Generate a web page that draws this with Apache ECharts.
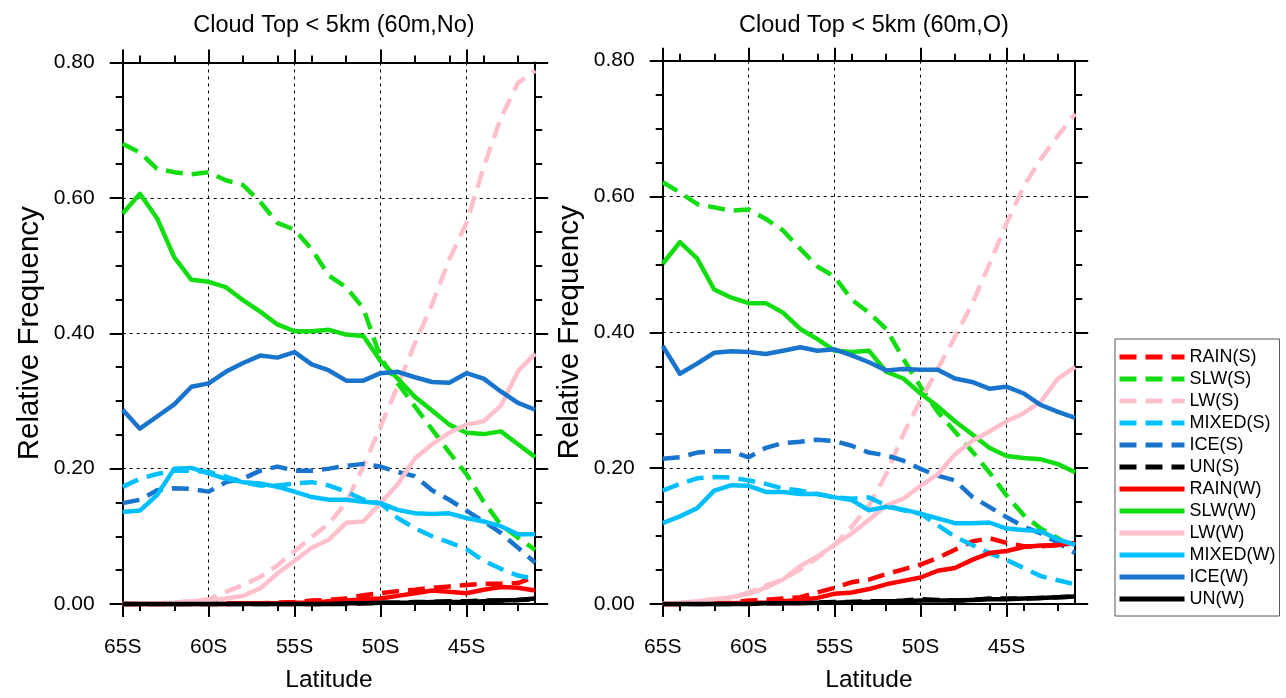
<!DOCTYPE html>
<html>
<head>
<meta charset="utf-8">
<script src="https://cdn.jsdelivr.net/npm/echarts@6/dist/echarts.min.js"></script>
<style>
html,body{margin:0;padding:0;background:#fff;}
#chart{width:1286px;height:698px;}
</style>
</head>
<body>
<div id="chart"></div>
<script>
// ---------- data ----------
const latitudes = [65,64,63,62,61,60,59,58,57,56,55,54,53,52,51,50,49,48,47,46,45,44,43,42,41];
const xMajorTicks = [-65,-60,-55,-50,-45];
const xMinorTicks = [-64,-62,-58,-56,-54,-52,-48,-46,-44,-42];
const seriesNames = ['RAIN(S)','SLW(S)','LW(S)','MIXED(S)','ICE(S)','UN(S)','RAIN(W)','SLW(W)','LW(W)','MIXED(W)','ICE(W)','UN(W)'];
const panelTitles = ['Cloud Top < 5km (60m,No)','Cloud Top < 5km (60m,O)'];

// Left panel (60m,No)
const rainS_No  = [0.001,0.001,0.001,0.001,0.001,0.001,0.001,0.001,0.001,0.002,0.003,0.005,0.006,0.008,0.013,0.016,0.019,0.021,0.024,0.026,0.028,0.030,0.030,0.031,0.040];
const slwS_No   = [0.680,0.667,0.643,0.638,0.635,0.638,0.626,0.619,0.594,0.563,0.553,0.524,0.485,0.468,0.437,0.364,0.326,0.292,0.258,0.224,0.192,0.151,0.117,0.098,0.080];
const lwS_No    = [0.001,0.001,0.001,0.002,0.004,0.007,0.018,0.028,0.040,0.057,0.078,0.099,0.119,0.150,0.203,0.262,0.322,0.385,0.443,0.509,0.563,0.645,0.718,0.770,0.788];
const mixedS_No = [0.173,0.185,0.192,0.197,0.197,0.195,0.188,0.180,0.175,0.175,0.178,0.180,0.175,0.166,0.154,0.149,0.127,0.112,0.100,0.091,0.081,0.064,0.052,0.042,0.037];
const iceS_No   = [0.149,0.154,0.168,0.171,0.170,0.166,0.180,0.185,0.197,0.203,0.197,0.197,0.200,0.204,0.207,0.203,0.195,0.189,0.168,0.154,0.138,0.122,0.105,0.083,0.061];
const unS_No    = [0.000,0.000,0.000,0.000,0.000,0.000,0.000,0.000,0.000,0.000,0.000,0.000,0.000,0.000,0.001,0.002,0.002,0.003,0.003,0.004,0.004,0.005,0.005,0.006,0.007];
const rainW_No  = [0.000,0.000,0.000,0.000,0.000,0.000,0.000,0.001,0.001,0.001,0.002,0.002,0.004,0.005,0.007,0.008,0.012,0.016,0.020,0.018,0.016,0.021,0.025,0.024,0.020];
const slwW_No   = [0.577,0.606,0.570,0.512,0.479,0.476,0.468,0.449,0.432,0.413,0.403,0.403,0.405,0.398,0.396,0.359,0.333,0.306,0.286,0.265,0.253,0.251,0.255,0.236,0.217];
const lwW_No    = [0.000,0.001,0.001,0.002,0.004,0.006,0.008,0.012,0.023,0.045,0.064,0.083,0.095,0.120,0.122,0.149,0.177,0.215,0.236,0.253,0.265,0.270,0.293,0.344,0.370];
const mixedW_No = [0.136,0.138,0.161,0.200,0.201,0.193,0.185,0.180,0.178,0.173,0.166,0.158,0.154,0.154,0.151,0.149,0.139,0.134,0.133,0.134,0.127,0.122,0.115,0.103,0.103];
const iceW_No   = [0.287,0.259,0.277,0.295,0.321,0.326,0.343,0.356,0.367,0.364,0.372,0.354,0.345,0.330,0.330,0.341,0.343,0.335,0.328,0.327,0.341,0.333,0.314,0.297,0.287];
const unW_No    = [0.000,0.000,0.000,0.000,0.000,0.000,0.000,0.000,0.000,0.000,0.000,0.000,0.000,0.001,0.001,0.002,0.002,0.002,0.003,0.003,0.003,0.004,0.005,0.006,0.008];

// Right panel (60m,O)
const rainS_O  = [0.001,0.001,0.001,0.001,0.002,0.005,0.006,0.008,0.010,0.017,0.024,0.032,0.036,0.044,0.051,0.058,0.068,0.080,0.092,0.097,0.090,0.085,0.085,0.087,0.090];
const slwS_O   = [0.621,0.606,0.589,0.584,0.579,0.581,0.567,0.550,0.523,0.497,0.482,0.448,0.429,0.405,0.361,0.320,0.283,0.254,0.225,0.194,0.160,0.131,0.111,0.097,0.080];
const lwS_O    = [0.001,0.001,0.002,0.005,0.010,0.017,0.027,0.036,0.051,0.068,0.087,0.114,0.145,0.191,0.250,0.300,0.346,0.393,0.442,0.500,0.560,0.615,0.655,0.690,0.722];
const mixedS_O = [0.167,0.177,0.185,0.187,0.186,0.182,0.177,0.170,0.167,0.162,0.157,0.155,0.157,0.145,0.138,0.133,0.116,0.099,0.087,0.075,0.065,0.053,0.041,0.035,0.029];
const iceS_O   = [0.214,0.216,0.223,0.225,0.225,0.216,0.230,0.237,0.239,0.242,0.240,0.233,0.223,0.219,0.211,0.199,0.189,0.182,0.158,0.143,0.128,0.114,0.104,0.090,0.075];
const unS_O    = [0.000,0.000,0.000,0.000,0.000,0.001,0.001,0.001,0.002,0.002,0.003,0.003,0.004,0.004,0.005,0.007,0.006,0.005,0.006,0.008,0.008,0.008,0.009,0.010,0.011];
const rainW_O  = [0.000,0.000,0.001,0.001,0.001,0.002,0.002,0.004,0.006,0.009,0.015,0.017,0.022,0.029,0.034,0.039,0.049,0.053,0.065,0.075,0.078,0.084,0.086,0.087,0.090];
const slwW_O   = [0.501,0.533,0.509,0.463,0.451,0.443,0.443,0.429,0.405,0.390,0.373,0.371,0.373,0.342,0.332,0.310,0.291,0.269,0.250,0.230,0.218,0.215,0.213,0.206,0.194];
const lwW_O    = [0.001,0.002,0.004,0.007,0.010,0.015,0.024,0.036,0.056,0.070,0.087,0.104,0.124,0.145,0.155,0.174,0.191,0.220,0.240,0.254,0.269,0.281,0.298,0.332,0.349];
const mixedW_O = [0.119,0.129,0.141,0.167,0.175,0.174,0.165,0.165,0.162,0.162,0.157,0.153,0.138,0.143,0.139,0.133,0.126,0.119,0.119,0.120,0.111,0.109,0.107,0.095,0.087];
const iceW_O   = [0.380,0.339,0.354,0.370,0.372,0.371,0.368,0.373,0.378,0.373,0.375,0.366,0.356,0.344,0.346,0.345,0.345,0.332,0.327,0.317,0.320,0.310,0.293,0.283,0.274];
const unW_O    = [0.000,0.000,0.000,0.000,0.000,0.000,0.001,0.001,0.001,0.002,0.002,0.003,0.003,0.004,0.004,0.005,0.005,0.005,0.006,0.007,0.007,0.008,0.009,0.010,0.011];

const panelData = [
  [rainS_No, slwS_No, lwS_No, mixedS_No, iceS_No, unS_No, rainW_No, slwW_No, lwW_No, mixedW_No, iceW_No, unW_No],
  [rainS_O,  slwS_O,  lwS_O,  mixedS_O,  iceS_O,  unS_O,  rainW_O,  slwW_O,  lwW_O,  mixedW_O,  iceW_O,  unW_O]
];

// ---------- styles ----------
const FONT = "'Liberation Sans', Arial, Helvetica, sans-serif";
const colorOf = {RAIN:'#ff0000', SLW:'#11dd11', LW:'#ffc0cb', MIXED:'#00bfff', ICE:'#1874cd', UN:'#000000'};
const grids = [
  {left:122.7, top:62.5, width:412.5, height:551.5},
  {left:662.7, top:60.7, width:412.5, height:551}
];
const frame = {color:'#000', width:2};

const chart = echarts.init(document.getElementById('chart'), null, {renderer:'canvas'});

const xAxis = [], yAxis = [], series = [];
grids.forEach((g, gi) => {
  const base = {gridIndex:gi, type:'value', min:-65, max:-41, interval:5};
  xAxis.push({
    ...base, position:'bottom',
    axisLine:{show:true, onZero:false, lineStyle:frame},
    axisTick:{show:true, inside:false, length:13, customValues:xMajorTicks, lineStyle:frame},
    axisLabel:{show:true, customValues:xMajorTicks, margin:33, fontSize:21, color:'#000', fontFamily:FONT,
               formatter:v => (v === -41 ? '' : Math.abs(v) + 'S')},
    splitLine:{show:true, lineStyle:{color:'#000', width:1, type:[3,4]}},
    name:'Latitude', nameLocation:'middle', nameGap:64,
    nameTextStyle:{fontSize:24.5, color:'#000', fontFamily:FONT}
  });
  xAxis.push({
    ...base, position:'bottom',
    axisLine:{show:false, onZero:false},
    axisTick:{show:true, inside:false, length:7, customValues:xMinorTicks, lineStyle:frame},
    axisLabel:{show:false}, splitLine:{show:false}
  });
  xAxis.push({
    ...base, position:'top',
    axisLine:{show:true, onZero:false, lineStyle:frame},
    axisTick:{show:true, inside:false, length:13, customValues:xMajorTicks, lineStyle:frame},
    axisLabel:{show:false}, splitLine:{show:false}
  });
  xAxis.push({
    ...base, position:'top',
    axisLine:{show:false, onZero:false},
    axisTick:{show:true, inside:false, length:7, customValues:xMinorTicks, lineStyle:frame},
    axisLabel:{show:false}, splitLine:{show:false}
  });
  const ybase = {gridIndex:gi, type:'value', min:0, max:0.8, interval:0.2};
  yAxis.push({
    ...ybase, position:'left',
    axisLine:{show:true, onZero:false, lineStyle:frame},
    axisTick:{show:true, inside:false, length:13, lineStyle:frame},
    minorTick:{show:true, splitNumber:4, length:7, lineStyle:frame},
    axisLabel:{show:true, margin:28, fontSize:21, color:'#000', fontFamily:FONT, formatter:v => v.toFixed(2)},
    splitLine:{show:true, lineStyle:{color:'#000', width:1, type:[3,4]}},
    name:'Relative Frequency', nameLocation:'middle', nameGap:78,
    nameTextStyle:{fontSize:29.5, color:'#000', fontFamily:FONT}
  });
  yAxis.push({
    ...ybase, position:'right',
    axisLine:{show:true, onZero:false, lineStyle:frame},
    axisTick:{show:true, inside:false, length:13, lineStyle:frame},
    minorTick:{show:true, splitNumber:4, length:7, lineStyle:frame},
    axisLabel:{show:false}, splitLine:{show:false}
  });

  seriesNames.forEach((name, si) => {
    const kind = name.split('(')[0];
    const dashed = name.indexOf('(S)') >= 0;
    const vals = panelData[gi][si];
    series.push({
      name, type:'line', xAxisIndex:gi*4, yAxisIndex:gi*2,
      data: latitudes.map((lat, i) => [-lat, vals[i]]),
      symbol:'none', showSymbol:false, clip:false, silent:true,
      lineStyle:{color:colorOf[kind], width:4.5, type: dashed ? [17,9] : 'solid', cap:'butt', join:'round'},
      itemStyle:{color:colorOf[kind]},
      z: 2 + si * 0.01
    });
  });
});

chart.setOption({
  animation:false,
  backgroundColor:'#fff',
  title: panelTitles.map((t, i) => ({
    text:t, left: grids[i].left + grids[i].width/2, top:9, textAlign:'center',
    textStyle:{fontSize:23.5, fontWeight:'normal', color:'#000', fontFamily:FONT}
  })),
  legend:{
    orient:'vertical', left:1115, top:339, data:seriesNames,
    itemWidth:65, itemHeight:14, itemGap:4,
    padding:[9,4,8,2], borderColor:'#555', borderWidth:1,
    itemStyle:{opacity:0, borderWidth:0},
    lineStyle:{width:5},
    textStyle:{fontSize:18, lineHeight:18, color:'#000', fontFamily:FONT},
    selectedMode:false
  },
  grid: grids.map(g => ({...g, containLabel:false, show:false})),
  xAxis, yAxis, series
});
</script>
</body>
</html>
